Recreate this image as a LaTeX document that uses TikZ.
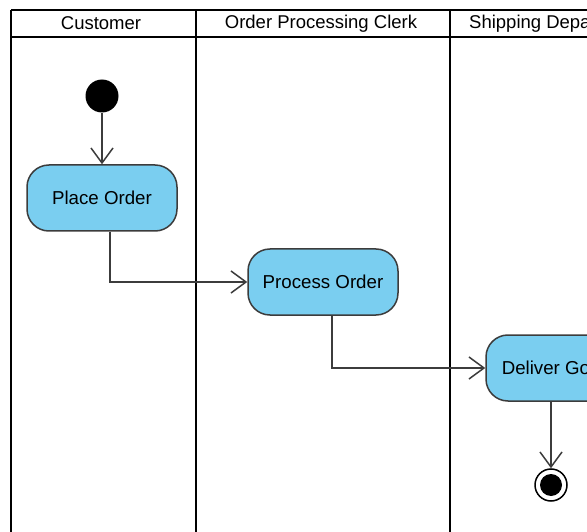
\documentclass[tikz,border=0pt]{standalone}
\usepackage{fontspec}
\setmainfont{Liberation Sans}
\usetikzlibrary{arrows.meta}
\definecolor{actfill}{RGB}{122,206,240}
\definecolor{actdraw}{RGB}{60,60,60}
\tikzset{
  lane/.style={draw=black, line width=2.6pt},
  lanehead/.style={font=\fontsize{18.5}{20}\selectfont, inner sep=0pt},
  activity/.style={draw=actdraw, fill=actfill, line width=1.5pt, rounded corners=22pt,
    minimum width=150pt, minimum height=66pt, font=\fontsize{18.7}{20}\selectfont, inner sep=0pt},
  flow/.style={draw=actdraw, line width=1.5pt, -{Straight Barb[length=15pt,width=22pt,line width=1.5pt]}},
  initnode/.style={circle, fill=black, minimum size=33pt, inner sep=0pt},
  finalouter/.style={circle, draw=black, fill=white, line width=1.5pt, minimum size=32pt, inner sep=0pt},
  finalinner/.style={circle, fill=black, minimum size=22pt, inner sep=0pt}
}
\begin{document}
\begin{tikzpicture}[x=1pt,y=-1pt]
\useasboundingbox (0,0) rectangle (587,532);
\fill[white] (0,0) rectangle (587,532);
\clip (0,0) rectangle (587,532);
% swimlanes
\draw[lane] (11,10) -- (700,10);
\draw[lane] (11,37) -- (700,37);
\draw[lane] (11,10) -- (11,560);
\draw[lane] (196,10) -- (196,560);
\draw[lane] (450,10) -- (450,560);
\node[lanehead] (h1) at (101,23.5) {Customer};
\node[lanehead] (h2) at (321,23.5) {Order Processing Clerk};
\node[lanehead, anchor=west] (h3) at (469,23.5) {Shipping Department};
% nodes
\node[initnode] (init) at (102,96) {};
\node[activity] (place) at (102,198) {Place Order};
\node[activity] (proc) at (323,282) {Process Order};
\node[activity] (deliver) at (561,368) {Deliver Goods};
\node[finalouter] (final) at (551,485) {};
\node[finalinner] (finalin) at (final) {};
% flows
\draw[flow] (init) -- (place);
\draw[flow] ([xshift=8pt]place.south) |- (proc.west);
\draw[flow] ([xshift=9pt]proc.south) |- (deliver.west);
\draw[flow] (final |- deliver.south) -- (final.north);
\end{tikzpicture}
\end{document}
